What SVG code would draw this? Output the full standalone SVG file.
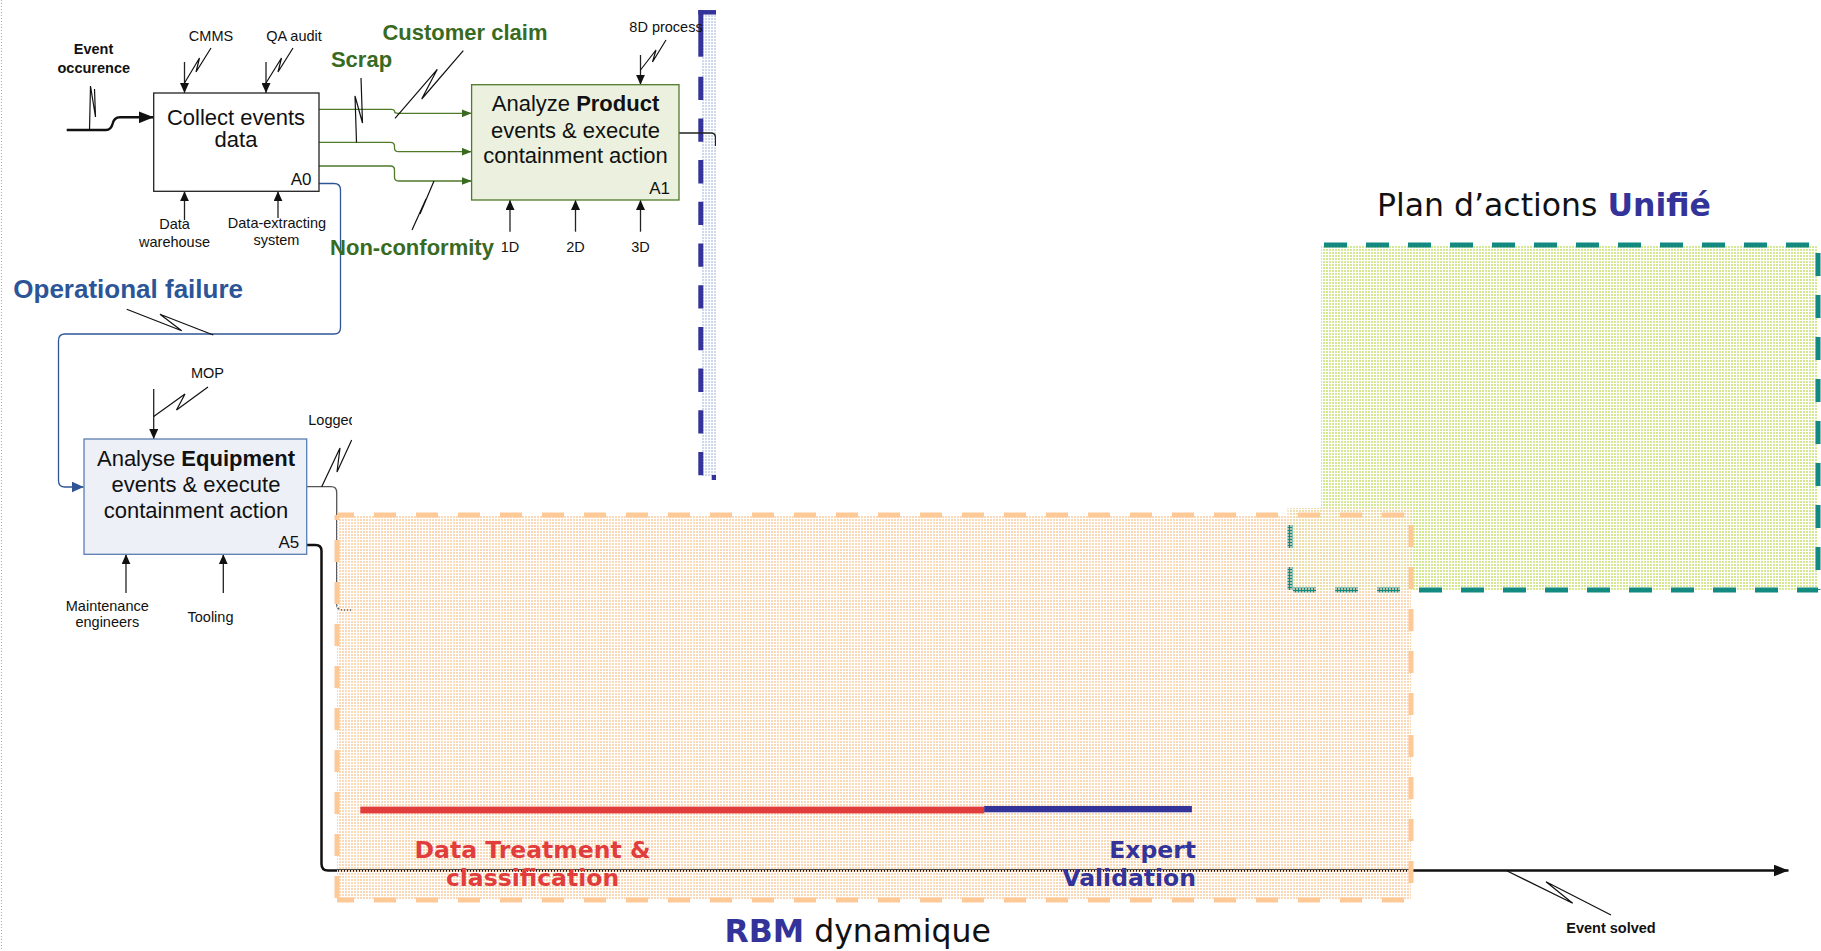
<svg xmlns="http://www.w3.org/2000/svg" width="1821" height="951" viewBox="0 0 1821 951">
  <defs>
    <style>
      .sans { font-family: "Liberation Sans", Arial, sans-serif; }
      .verd { font-family: "DejaVu Sans", Verdana, sans-serif; }
      .lbl { font-family: "Liberation Sans", Arial, sans-serif; font-size: 14.5px; fill: #111; }
      .ntxt { font-family: "Liberation Sans", Arial, sans-serif; font-size: 22px; fill: #111; text-anchor: middle; }
      .tag { font-family: "Liberation Sans", Arial, sans-serif; font-size: 17px; fill: #111; text-anchor: end; }
      .grn { font-family: "Liberation Sans", Arial, sans-serif; font-size: 22px; font-weight: bold; fill: #386a1f; }
      .mid { text-anchor: middle; }
      .wire { fill: none; stroke: #222; stroke-width: 1.3; }
      .gwire { fill: none; stroke: #4f7a28; stroke-width: 1.3; }
      .bwire { fill: none; stroke: #2f5597; stroke-width: 1.3; }
      .sq { fill: none; stroke: #111; stroke-width: 1.2; stroke-linejoin: miter; }
      .teal { fill: none; stroke: #138a80; stroke-width: 5; stroke-dasharray: 23 19; }
      .peach { fill: none; stroke: #fdc996; stroke-width: 5; stroke-dasharray: 22 20; }
    </style>
    <pattern id="dotOrange" width="3" height="3" patternUnits="userSpaceOnUse">
      <rect width="2" height="2" fill="#fad9b8"/>
    </pattern>
    <pattern id="dotGreen" width="3" height="3" patternUnits="userSpaceOnUse">
      <rect width="2" height="2" fill="#d4e894"/>
    </pattern>
    <pattern id="dotBlue" width="3" height="3" patternUnits="userSpaceOnUse">
      <rect width="3" height="3" fill="#ffffff"/>
      <rect width="2" height="2" fill="#d0d9eb"/>
    </pattern>
    <marker id="ahK" viewBox="0 0 10 9" refX="10" refY="4.5" markerWidth="10" markerHeight="9" markerUnits="userSpaceOnUse" orient="auto">
      <path d="M0,0 L10,4.5 L0,9 Z" fill="#111"/>
    </marker>
    <marker id="ahG" viewBox="0 0 10 8" refX="10" refY="4" markerWidth="10" markerHeight="8" markerUnits="userSpaceOnUse" orient="auto">
      <path d="M0,0 L10,4 L0,8 Z" fill="#386a1f"/>
    </marker>
    <marker id="ahB" viewBox="0 0 12 11" refX="12" refY="5.5" markerWidth="12" markerHeight="11" markerUnits="userSpaceOnUse" orient="auto">
      <path d="M0,0 L12,5.5 L0,11 Z" fill="#2f5597"/>
    </marker>
    <marker id="ahBig" viewBox="0 0 15 12" refX="15" refY="6" markerWidth="15" markerHeight="12" markerUnits="userSpaceOnUse" orient="auto">
      <path d="M0,0 L15,6 L0,12 Z" fill="#111"/>
    </marker>
    <clipPath id="clipLeft">
      <rect x="0" y="0" width="352" height="951"/>
    </clipPath>
    <clipPath id="clipStrip">
      <rect x="0" y="0" width="716" height="951"/>
    </clipPath>
    <clipPath id="clipGreen">
      <polygon points="1321,0 1821,0 1821,951 1280,951 1280,508 1321,508"/>
    </clipPath>
  </defs>

  <rect width="1821" height="951" fill="#ffffff"/>
  <!-- dotted page margin on the left -->
  <line x1="1.5" y1="0" x2="1.5" y2="951" stroke="#aaa3d2" stroke-width="1" stroke-dasharray="1 2"/>

  <!-- narrow blue framed strip (product side) -->
  <g id="product-strip" clip-path="url(#clipStrip)">
    <rect x="701" y="13" width="20" height="464" fill="url(#dotBlue)"/>
    <line x1="698.3" y1="12.3" x2="716" y2="12.3" stroke="#333399" stroke-width="4.5"/>
    <line x1="700.8" y1="10" x2="700.8" y2="56.7" stroke="#333399" stroke-width="5"/>
    <line x1="700.8" y1="76.7" x2="700.8" y2="478" stroke="#333399" stroke-width="5" stroke-dasharray="23.3 18.4"/>
    <rect x="711.7" y="475" width="4.3" height="5" fill="#333399"/>
  </g>

  <!-- connectors -->
  <g id="connectors">
    <!-- event occurrence input -->
    <path d="M66.7,130 H106 Q111,130 112.5,124 Q114,117.3 120,117.3 H153.7" fill="none" stroke="#111" stroke-width="2.5" marker-end="url(#ahBig)"/>
    <path class="sq" d="M89.5,130 L90.5,86 L95.5,117 L94.5,89" stroke-width="2"/>

    <!-- controls / mechanisms of A0 -->
    <path class="wire" d="M184.5,62 V93" marker-end="url(#ahK)"/>
    <path class="sq" d="M211,48 L196,72 L199.5,58 L184.5,83"/>
    <path class="wire" d="M266,62 V93" marker-end="url(#ahK)"/>
    <path class="sq" d="M293,48 L278,72 L281.5,58 L266,83"/>
    <path class="wire" d="M184.5,220 V191.3" marker-end="url(#ahK)"/>
    <path class="wire" d="M278,218 V191.3" marker-end="url(#ahK)"/>

    <!-- A0 outputs to A1 -->
    <path class="gwire" d="M319,109.3 H391 Q394.5,109.3 394.5,111.3 Q394.5,113.3 398,113.3 H471.6" marker-end="url(#ahG)"/>
    <path class="gwire" d="M319,142.3 H390.5 Q394.5,142.3 394.5,146.3 V147.7 Q394.5,151.7 398.5,151.7 H471.6" marker-end="url(#ahG)"/>
    <path class="gwire" d="M319,166 H390.5 Q394.5,166 394.5,170 V177 Q394.5,181 398.5,181 H471.6" marker-end="url(#ahG)"/>
    <path class="sq" d="M361,78 L362.5,123 L355,96 L356.5,142.3" stroke="#386a1f"/>
    <path class="sq" d="M463.3,50.7 L421.7,99 L437.3,69.3 L395,118.3" stroke="#386a1f"/>
    <path class="sq" d="M434,181 L420,214 L426,199 L412,230" stroke="#386a1f"/>

    <!-- A1 control and mechanisms -->
    <path class="wire" d="M640.5,55 V84.7" marker-end="url(#ahK)"/>
    <path class="sq" d="M666,40 L652.5,62 L656,50 L640.5,70"/>
    <path class="wire" d="M510,231.7 V200" marker-end="url(#ahK)"/>
    <path class="wire" d="M575.5,231.7 V200" marker-end="url(#ahK)"/>
    <path class="wire" d="M640.5,231.7 V200" marker-end="url(#ahK)"/>
    <!-- A1 output -->
    <path class="wire" d="M679,133 H711 Q715.5,133 715.5,137.5 V146" clip-path="url(#clipStrip)"/>

    <!-- A0 operational failure to A5 -->
    <path class="bwire" d="M319,183.5 H334 Q340.5,183.5 340.5,190 V327.5 Q340.5,334 334,334 H65 Q58.5,334 58.5,340.5 V480.5 Q58.5,487 65,487 H83.6" marker-end="url(#ahB)"/>
    <path class="sq" d="M126.7,309.3 L181.7,330.7 L160,314.3 L213.3,335" stroke="#2f5597"/>

    <!-- A5 control and mechanisms -->
    <path class="wire" d="M153.7,389 V439" marker-end="url(#ahK)"/>
    <path class="sq" d="M208,387 L176.5,410 L185,394 L153.7,416.5"/>
    <path class="wire" d="M126,593 V554.3" stroke="#333" marker-end="url(#ahK)"/>
    <path class="wire" d="M223.3,593 V554.3" stroke="#333" marker-end="url(#ahK)"/>

    <!-- A5 outputs -->
    <g clip-path="url(#clipLeft)">
      <path d="M306.7,486.7 H331 Q336.7,486.7 336.7,492.5 V604 Q336.7,610 342.5,610 H352" fill="none" stroke="#555" stroke-width="1.3"/>
      <path class="sq" d="M351.7,440 L337,472 L340,448 L321.7,486.7"/>
      <text class="lbl" x="308.3" y="425">Logged</text>
    </g>
    <path d="M306.7,545 H315.5 Q321.5,545 321.5,551 V864 Q321.5,870.5 328,870.5 H1788.5" fill="none" stroke="#111" stroke-width="2.5" marker-end="url(#ahBig)"/>
    <path class="sq" d="M1506.7,870.7 L1572.7,903.3 L1546,881.7 L1611,915" stroke-width="1.6"/>
  </g>

  <!-- A0 node -->
  <g id="A0">
    <rect x="153.7" y="93" width="165.3" height="98.3" fill="#ffffff" stroke="#222" stroke-width="1.3"/>
    <text class="ntxt" x="236" y="125" font-size="18">Collect events</text>
    <text class="ntxt" x="236" y="146.7" font-size="18">data</text>
    <text class="tag" x="311.5" y="185">A0</text>
  </g>

  <!-- A1 node -->
  <g id="A1">
    <rect x="471.6" y="84.7" width="207.4" height="115.3" fill="#ebf1de" stroke="#4f7a28" stroke-width="1.3"/>
    <text class="ntxt" x="575.5" y="111">Analyze <tspan font-weight="bold">Product</tspan></text>
    <text class="ntxt" x="575.5" y="137.5">events &amp; execute</text>
    <text class="ntxt" x="575.5" y="163">containment action</text>
    <text class="tag" x="670" y="194.3">A1</text>
  </g>

  <!-- A5 node -->
  <g id="A5">
    <rect x="84" y="439" width="222.7" height="115.3" fill="#edf0f6" stroke="#5b7db3" stroke-width="1.3"/>
    <text class="ntxt" x="196" y="466">Analyse <tspan font-weight="bold">Equipment</tspan></text>
    <text class="ntxt" x="196" y="492">events &amp; execute</text>
    <text class="ntxt" x="196" y="518">containment action</text>
    <text class="tag" x="299.3" y="548.3">A5</text>
  </g>

  <!-- arrow labels -->
  <g id="labels">
    <text class="lbl mid" x="93.5" y="54.3" font-weight="bold">Event</text>
    <text class="lbl mid" x="93.8" y="73.3" font-weight="bold">occurence</text>
    <text class="lbl mid" x="211" y="40.5">CMMS</text>
    <text class="lbl mid" x="294" y="40.5">QA audit</text>
    <text class="lbl mid" x="174.5" y="229.3">Data</text>
    <text class="lbl mid" x="174.5" y="246.7">warehouse</text>
    <text class="lbl mid" x="277" y="227.7">Data-extracting</text>
    <text class="lbl mid" x="276.5" y="245">system</text>
    <text class="lbl mid" x="666" y="31.7">8D process</text>
    <text class="lbl mid" x="510" y="251.7">1D</text>
    <text class="lbl mid" x="575.5" y="251.7">2D</text>
    <text class="lbl mid" x="640.5" y="251.7">3D</text>
    <text class="lbl mid" x="207.5" y="378.3">MOP</text>
    <text class="lbl mid" x="107.3" y="610.7">Maintenance</text>
    <text class="lbl mid" x="107.3" y="627.3">engineers</text>
    <text class="lbl mid" x="210.5" y="622.3">Tooling</text>
    <text class="lbl mid" x="1611" y="932.7" font-weight="bold">Event solved</text>
    <text class="grn mid" x="465" y="40">Customer claim</text>
    <text class="grn mid" x="361.5" y="66.7">Scrap</text>
    <text class="grn mid" x="412" y="255">Non-conformity</text>
    <text class="sans" x="13.3" y="298.3" font-size="26" font-weight="bold" fill="#2c5597">Operational failure</text>
  </g>

  <!-- dynamic RBM area: dotted fill -->
  <g id="rbm-dynamique-fill">
    <rect x="337" y="515" width="1074" height="385" fill="url(#dotOrange)"/>
  </g>

  <!-- unified action plan area -->
  <g id="plan-unifie">
    <polygon points="1321,245 1818,245 1818,590 1290,590 1290,508 1321,508" fill="url(#dotGreen)"/>
    <g clip-path="url(#clipGreen)">
      <line class="teal" x1="1290" y1="245" x2="1821" y2="245" stroke-dashoffset="8"/>
      <line class="teal" x1="1818" y1="245" x2="1818" y2="590" stroke-dashoffset="34"/>
      <line class="teal" x1="1290" y1="590" x2="1818" y2="590" stroke-dashoffset="39"/>
      <line class="teal" x1="1290" y1="590" x2="1290" y2="500"/>
    </g>
    <!-- peach dots laid over the shared corner -->
    <rect x="1286" y="508" width="125" height="85" fill="url(#dotOrange)" opacity="0.7"/>
    <text class="verd" x="1377" y="216" font-size="31.5" fill="#111">Plan d’actions <tspan font-weight="bold" fill="#333399">Unifié</tspan></text>
  </g>

  <!-- dynamic RBM area: frame, phases and title -->
  <g id="rbm-dynamique">
    <line class="peach" x1="337" y1="515" x2="1411" y2="515" stroke-dashoffset="5"/>
    <line class="peach" x1="337" y1="515" x2="337" y2="900" stroke-dashoffset="17"/>
    <line class="peach" x1="1411" y1="515" x2="1411" y2="900" stroke-dashoffset="32"/>
    <line class="peach" x1="337" y1="900" x2="1411" y2="900" stroke-dashoffset="5"/>
    <rect x="360.3" y="806.6" width="624" height="6.8" fill="#e23d3d"/>
    <rect x="984.2" y="806" width="207.7" height="6.3" fill="#333399"/>
    <text class="verd mid" x="532.5" y="858.3" font-size="23.5" font-weight="bold" fill="#e23d3d">Data Treatment &amp;</text>
    <text class="verd mid" x="532.5" y="886" font-size="23.5" font-weight="bold" fill="#e23d3d">classification</text>
    <text class="verd" x="1196" y="858.3" font-size="23.5" font-weight="bold" fill="#333399" text-anchor="end">Expert</text>
    <text class="verd" x="1196" y="886" font-size="23.5" font-weight="bold" fill="#333399" text-anchor="end">Validation</text>
    <text class="verd" x="724.5" y="942" font-size="31.5" fill="#111"><tspan font-weight="bold" fill="#333399">RBM</tspan> dynamique</text>
  </g>
</svg>
